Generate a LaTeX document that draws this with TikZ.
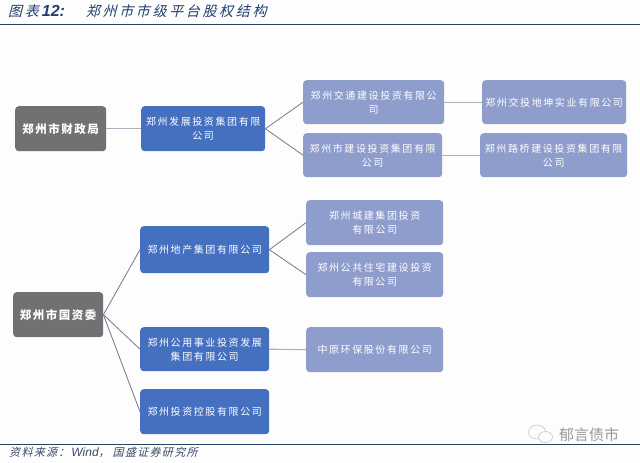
\documentclass[tikz,border=0pt]{standalone}
\usepackage{fontspec}
\setmainfont{Liberation Sans}
\newfontfamily\cjkbox[LetterSpace=16]{Noto Sans CJK SC}
\newfontfamily\cjkroot[LetterSpace=13]{Noto Sans CJK SC}
\newfontfamily\cjktitle[FakeSlant=0.25,LetterSpace=19]{Noto Sans CJK SC}
\newfontfamily\cjkfoot[FakeSlant=0.25,LetterSpace=12]{Noto Sans CJK SC}
\newfontfamily\cjkmark{Noto Sans CJK SC}
\definecolor{bgc}{HTML}{FDFDFD}
\definecolor{rootc}{HTML}{737073}
\definecolor{midc}{HTML}{4470BF}
\definecolor{leafc}{HTML}{8E9DCC}
\definecolor{linkc}{HTML}{77778C}
\definecolor{softc}{HTML}{AEAEBC}
\definecolor{navyc}{HTML}{1F3F6E}
\definecolor{rulec}{HTML}{27465F}
\definecolor{footc}{HTML}{3B4A66}
\tikzset{
  x=1pt,y=-1pt,
  boxbase/.style={anchor=north west,inner sep=0pt,rounded corners=3.5pt,align=center,text=white,draw=none},
  rootbox/.style={boxbase,fill=rootc,font=\cjkroot\fontsize{11.5}{15}\selectfont\bfseries},
  midbox/.style={boxbase,fill=midc,font=\cjkbox\fontsize{10}{14}\selectfont},
  leafbox/.style={boxbase,fill=leafc,font=\cjkbox\fontsize{10}{14}\selectfont},
  linkline/.style={draw=linkc,line width=0.8pt},
  softline/.style={draw=softc,line width=1.1pt},
  ruleline/.style={draw=rulec,line width=1pt},
}
\newcommand{\bx}[8]{\node[#1,minimum width=#6 pt,minimum height=#7 pt] (#2) at (#4,#5) {#8};}
\begin{document}
\begin{tikzpicture}
\useasboundingbox[fill=bgc] (0,0) rectangle (640,463);
\coordinate (t1) at (0,24); \coordinate (t2) at (640,24);
\coordinate (b1) at (0,444); \coordinate (b2) at (640,444);
\draw[ruleline] (t1) -- (t2);
\draw[ruleline] (b1) -- (b2);
\node[anchor=west,inner sep=0pt,text=navyc] (ttl) at (8,11.5) {{\cjktitle\fontsize{14}{16}\selectfont 图表}\hspace{3pt}{\fontsize{16}{16}\selectfont\bfseries\itshape 12:}\hspace{21pt}{\cjktitle\fontsize{14}{16}\selectfont 郑州市市级平台股权结构}};
\node[anchor=west,inner sep=0pt,text=footc] (src) at (9,452) {{\cjkfoot\fontsize{11}{12}\selectfont 资料来源：}\hspace{2pt}{\fontsize{12}{12}\selectfont\itshape Wind}{\cjkfoot\fontsize{11}{12}\selectfont ，}\hspace{3pt}{\cjkfoot\fontsize{11}{12}\selectfont 国盛证券研究所}};
\bx{rootbox}{A}{}{15}{106}{91}{45}{郑州市财政局}
\bx{midbox}{B}{}{141}{106}{124}{45}{郑州发展投资集团有限\\公司}
\bx{leafbox}{C}{}{303}{80}{141}{44}{郑州交通建设投资有限公\\司}
\bx{leafbox}{D}{}{303}{133}{139}{44}{郑州市建设投资集团有限\\公司}
\bx{leafbox}{E}{}{482}{80}{144}{44}{郑州交投地坤实业有限公司}
\bx{leafbox}{F}{}{480}{133}{147}{44}{郑州路桥建设投资集团有限\\公司}
\bx{rootbox}{J}{}{13}{292}{90}{45}{郑州市国资委}
\bx{midbox}{G}{}{140}{226}{129}{47}{郑州地产集团有限公司}
\bx{midbox}{K}{}{140}{327}{129}{44}{郑州公用事业投资发展\\集团有限公司}
\bx{midbox}{L}{}{140}{389}{129}{45}{郑州投资控股有限公司}
\bx{leafbox}{H}{}{306}{200}{137}{45}{郑州城建集团投资\\有限公司}
\bx{leafbox}{I}{}{306}{252}{137}{45}{郑州公共住宅建设投资\\有限公司}
\bx{leafbox}{M}{}{306}{327}{137}{45}{中原环保股份有限公司}
\draw[softline] (A.east) -- (B.west);
\draw[softline] (C.east) -- (E.west);
\draw[softline] (D.east) -- (F.west);
\draw[softline] (K.east) -- (M.west);
\draw[linkline] (B.east) -- (C.west);
\draw[linkline] (B.east) -- (D.west);
\draw[linkline] (G.east) -- (H.west);
\draw[linkline] (G.east) -- (I.west);
\draw[linkline] (J.east) -- (G.west);
\draw[linkline] (J.east) -- (K.west);
\draw[linkline] (J.east) -- (L.west);
\node[anchor=west,inner sep=0pt,text=gray!80] (wm) at (559,435) {\cjkmark\fontsize{15}{16}\selectfont 郁言债市};
\draw[gray!45,line width=0.6pt] (537,432) ellipse [x radius=8.5,y radius=7];
\draw[gray!45,line width=0.6pt,fill=bgc] (545.5,437) ellipse [x radius=7,y radius=5.5];
\end{tikzpicture}
\end{document}
